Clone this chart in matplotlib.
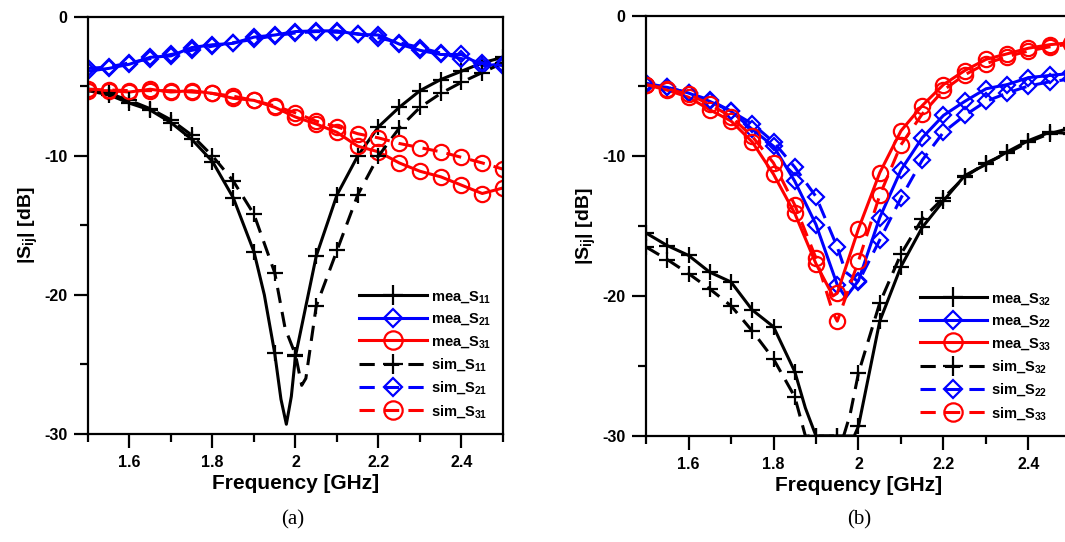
import numpy as np
import matplotlib
matplotlib.use("Agg")
import matplotlib.pyplot as plt

plt.rcParams['font.family'] = ['Liberation Sans', 'DejaVu Sans']
plt.rcParams['font.weight'] = 'bold'
plt.rcParams['axes.unicode_minus'] = False
plt.rcParams['mathtext.fontset'] = 'custom'
plt.rcParams['mathtext.rm'] = 'Liberation Sans:bold'
plt.rcParams['mathtext.bf'] = 'Liberation Sans:bold'
plt.rcParams['mathtext.it'] = 'Liberation Sans:bold'

# ---- panel (a) data: |S11|, |S21|, |S31| in dB ----
f_a11 = [1.5, 1.55, 1.6, 1.65, 1.7, 1.75, 1.8, 1.85, 1.9, 1.925, 1.95, 1.965, 1.978, 1.99,
         2.0, 2.05, 2.1, 2.15, 2.2, 2.25, 2.3, 2.35, 2.4, 2.45, 2.5]
mea_s11 = [-5.3, -5.6, -6.2, -6.7, -7.6, -8.8, -10.4, -13.0, -16.9, -20.0, -24.2, -27.5, -29.3, -27.3,
           -24.4, -17.2, -12.8, -10.0, -7.9, -6.5, -5.3, -4.5, -3.9, -3.3, -2.9]
f_s11 = [1.5, 1.55, 1.6, 1.65, 1.7, 1.75, 1.8, 1.85, 1.9, 1.95, 1.975, 2.0, 2.015, 2.025,
         2.05, 2.1, 2.15, 2.2, 2.25, 2.3, 2.35, 2.4, 2.45, 2.5]
sim_s11 = [-5.2, -5.5, -6.0, -6.6, -7.4, -8.5, -10.0, -11.8, -14.2, -18.4, -22.4, -24.3, -26.5, -26.0,
           -20.8, -16.8, -12.8, -10.0, -8.0, -6.5, -5.5, -4.7, -4.0, -3.3]

f_a = [1.5, 1.55, 1.6, 1.65, 1.7, 1.75, 1.8, 1.85, 1.9, 1.95, 2.0,
       2.05, 2.1, 2.15, 2.2, 2.25, 2.3, 2.35, 2.4, 2.45, 2.5]
mea_s21 = [-3.9, -3.7, -3.4, -2.9, -2.8, -2.2, -2.0, -1.9, -1.45, -1.3, -1.05,
           -1.0, -1.0, -1.25, -1.3, -1.95, -2.4, -2.7, -2.7, -3.5, -3.4]
sim_s21 = [-3.7, -3.6, -3.3, -3.0, -2.7, -2.4, -2.1, -1.85, -1.6, -1.35, -1.15,
           -1.05, -1.1, -1.2, -1.5, -1.85, -2.2, -2.6, -3.0, -3.3, -3.5]
mea_s31 = [-5.3, -5.3, -5.4, -5.2, -5.4, -5.3, -5.5, -5.85, -6.0, -6.5, -7.2,
           -7.7, -8.3, -9.3, -9.7, -10.5, -11.1, -11.5, -12.1, -12.7, -12.3]
sim_s31 = [-5.2, -5.25, -5.3, -5.3, -5.3, -5.4, -5.5, -5.7, -6.0, -6.4, -6.9,
           -7.5, -7.9, -8.4, -8.7, -9.1, -9.4, -9.7, -10.1, -10.5, -10.95]

# ---- panel (b) data: |S32|, |S22|, |S33| in dB ----
f_b32 = [1.5, 1.55, 1.6, 1.65, 1.7, 1.75, 1.8, 1.85, 1.875, 1.9, 1.95, 1.99,
         2.0, 2.05, 2.1, 2.15, 2.2, 2.25, 2.3, 2.35, 2.4, 2.45, 2.5]
mea_s32 = [-15.5, -16.4, -17.1, -18.3, -19.0, -21.0, -22.2, -25.4, -28.0, -30.0, -30.0, -30.0,
           -29.3, -21.8, -17.9, -15.1, -13.2, -11.4, -10.6, -9.7, -8.9, -8.3, -8.4]
f_s32 = [1.5, 1.55, 1.6, 1.65, 1.7, 1.75, 1.8, 1.85, 1.875, 1.9, 1.95, 1.965,
         1.98, 2.0, 2.05, 2.1, 2.15, 2.2, 2.25, 2.3, 2.35, 2.4, 2.45, 2.5]
sim_s32 = [-16.5, -17.4, -18.4, -19.5, -20.7, -22.5, -24.5, -27.2, -30.0, -30.0, -30.0, -30.0,
           -28.5, -25.5, -20.5, -17.0, -14.5, -13.0, -11.5, -10.5, -9.8, -9.0, -8.4, -8.0]

f_b = [1.5, 1.55, 1.6, 1.65, 1.7, 1.75, 1.8, 1.85, 1.9, 1.95, 1.97, 2.0,
       2.05, 2.1, 2.15, 2.2, 2.25, 2.3, 2.35, 2.4, 2.45, 2.5]
mea_s22 = [-4.9, -5.1, -5.5, -6.1, -6.8, -8.1, -9.3, -11.8, -14.9, -19.2, -20.1, -18.9,
           -14.4, -11.0, -8.7, -7.1, -6.1, -5.2, -4.9, -4.4, -4.25, -4.1]
sim_s22 = [-4.8, -5.1, -5.5, -6.0, -6.8, -7.7, -9.0, -10.8, -12.9, -16.5, -18.3, -19.0,
           -16.0, -13.0, -10.3, -8.3, -7.1, -6.1, -5.5, -5.0, -4.7, -4.5]
f_b33 = [1.5, 1.55, 1.6, 1.65, 1.7, 1.75, 1.8, 1.85, 1.9, 1.94, 1.95, 2.0,
         2.05, 2.1, 2.15, 2.2, 2.25, 2.3, 2.35, 2.4, 2.45, 2.5]
mea_s33 = [-4.9, -5.3, -5.8, -6.7, -7.5, -9.0, -11.3, -14.1, -17.7, -20.0, -19.8, -15.2,
           -11.2, -8.2, -6.4, -4.9, -3.9, -3.1, -2.7, -2.3, -2.05, -1.9]
sim_s33 = [-4.9, -5.2, -5.6, -6.3, -7.2, -8.6, -10.5, -13.5, -17.3, -21.2, -21.8, -17.5,
           -12.8, -9.2, -7.0, -5.3, -4.2, -3.4, -2.9, -2.5, -2.2, -2.0]

x_ticks = [1.6, 1.8, 2.0, 2.2, 2.4]
x_tick_labels = ['1.6', '1.8', '2', '2.2', '2.4']
y_ticks = [0, -10, -20, -30]


def grid_marks(freqs):
    # put markers only on the 50 MHz grid
    return [i for i, f in enumerate(freqs) if abs(f * 20 - round(f * 20)) < 1e-6]


def draw(ax, series):
    for fr, vals, color, mk, ls, lab in series:
        ms = {'+': 12, 'D': 8, 'o': 11}[mk]
        ax.plot(fr, vals, color=color, lw=2.2, ls=ls, marker=mk, ms=ms,
                mfc='none', mec=color, mew=1.6, markevery=grid_marks(fr), label=lab)
    ax.set_xlim(1.5, 2.5)
    ax.set_ylim(-30, 0)
    ax.set_xticks(x_ticks)
    ax.set_xticklabels(x_tick_labels)
    ax.set_xticks(np.arange(1.5, 2.55, 0.1), minor=True)
    ax.set_yticks(y_ticks)
    ax.set_yticks([-5, -15, -25], minor=True)
    ax.tick_params(which='major', direction='out', length=10, width=1.6, labelsize=11.5,
                   pad=5, top=False, right=False)
    ax.tick_params(which='minor', direction='out', length=6, width=1.6, top=False, right=False)
    for s in ax.spines.values():
        s.set_linewidth(1.6)
    for t in ax.get_xticklabels() + ax.get_yticklabels():
        t.set_fontweight('bold')
    ax.set_xlabel('Frequency [GHz]', fontsize=15, fontweight='bold', labelpad=3)
    ax.set_ylabel(r'|S$_{ij}$| [dB]', fontsize=14, fontweight='bold', labelpad=3)


dash = (0, (5, 3))
fig = plt.figure(figsize=(10.65, 5.42), dpi=100)
ax1 = fig.add_axes([0.0826, 0.1993, 0.3897, 0.7694])
ax2 = fig.add_axes([0.6066, 0.1956, 0.3990, 0.7749])

draw(ax1, [
    (f_a11, mea_s11, 'black', '+', '-', r'mea_S$_{11}$'),
    (f_a, mea_s21, 'blue', 'D', '-', r'mea_S$_{21}$'),
    (f_a, mea_s31, 'red', 'o', '-', r'mea_S$_{31}$'),
    (f_s11, sim_s11, 'black', '+', dash, r'sim_S$_{11}$'),
    (f_a, sim_s21, 'blue', 'D', dash, r'sim_S$_{21}$'),
    (f_a, sim_s31, 'red', 'o', dash, r'sim_S$_{31}$'),
])
draw(ax2, [
    (f_b32, mea_s32, 'black', '+', '-', r'mea_S$_{32}$'),
    (f_b, mea_s22, 'blue', 'D', '-', r'mea_S$_{22}$'),
    (f_b33, mea_s33, 'red', 'o', '-', r'mea_S$_{33}$'),
    (f_s32, sim_s32, 'black', '+', dash, r'sim_S$_{32}$'),
    (f_b, sim_s22, 'blue', 'D', dash, r'sim_S$_{22}$'),
    (f_b33, sim_s33, 'red', 'o', dash, r'sim_S$_{33}$'),
])

for ax, xa in ((ax1, 0.64), (ax2, 0.63)):
    leg = ax.legend(loc='lower left', bbox_to_anchor=(xa, 0.02), frameon=False,
                    handlelength=4.6, handletextpad=0.3, labelspacing=0.45, markerscale=1.2,
                    borderaxespad=0.0, prop={'weight': 'bold', 'size': 10.5})

fig.text(0.275, 0.04, '(a)', family='Liberation Serif', fontweight='normal',
         fontsize=15, ha='center', va='center')
fig.text(0.807, 0.04, '(b)', family='Liberation Serif', fontweight='normal',
         fontsize=15, ha='center', va='center')

fig.savefig('out.png', dpi=100)
